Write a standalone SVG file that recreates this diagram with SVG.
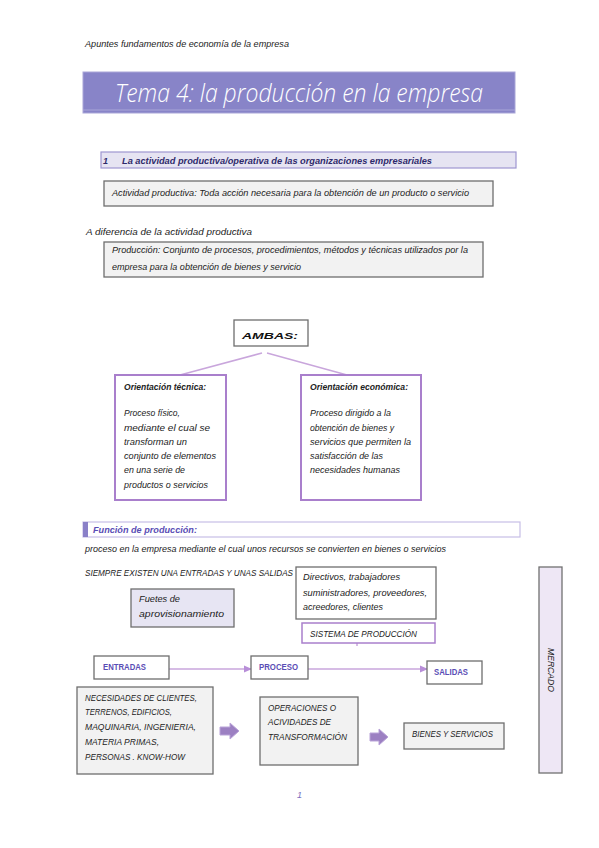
<svg xmlns="http://www.w3.org/2000/svg" width="599" height="848" viewBox="0 0 599 848">
<style>
text{font-family:"Liberation Sans","DejaVu Sans",sans-serif;font-style:italic;font-size:9px;fill:#222;}
.gbox{fill:#F2F2F2;stroke:#6E6E6E;stroke-width:1.3;}
.wbox{fill:#FFFFFF;stroke:#6E6E6E;stroke-width:1.3;}
.pbox{fill:#FFFFFF;stroke:#A97FCC;stroke-width:2;}
.lbox{fill:#E7E5F3;stroke:#6E6E6E;stroke-width:1.3;}
.conn{stroke:#C9A6DC;stroke-width:1.5;fill:none;}
.hd{fill:#5A4DB5;font-weight:bold;font-style:normal;font-size:8.5px;}
.blk{fill:#9C80C2;stroke:#B9A3D8;stroke-width:1;}
</style>
<defs>
<marker id="ah" markerWidth="8" markerHeight="8" refX="7" refY="4" orient="auto" markerUnits="userSpaceOnUse">
<path d="M0,0.5 L8,4 L0,7.5 Z" fill="#B88ED8"/>
</marker>
</defs>

<text x="85" y="47" textLength="204" lengthAdjust="spacingAndGlyphs" font-size="9.5">Apuntes fundamentos de economía de la empresa</text>

<g id="title">
<rect x="83" y="72" width="432" height="41" fill="#8884C8" stroke="#A9A6D8" stroke-width="1"/>
<line x1="83" y1="110" x2="515" y2="110" stroke="#A9A6D8" stroke-width="1"/>
<text x="115" y="102" textLength="368" lengthAdjust="spacingAndGlyphs" style="font-family:'Open Sans','Lato','Liberation Sans',sans-serif;font-weight:300;font-size:26px;fill:#FFFFFF;">Tema 4: la producción en la empresa</text>
</g>

<g id="section1">
<rect x="101" y="152" width="415" height="16" fill="#E6E4F2" stroke="#9E97D0" stroke-width="1.2"/>
<text x="103" y="164" font-weight="bold" font-size="9.5" fill="#2E2A6B" style="fill:#2E2A6B">1</text>
<text x="122" y="164" textLength="310" lengthAdjust="spacingAndGlyphs" font-weight="bold" font-size="9.5" style="fill:#2E2A6B">La actividad productiva/operativa de las organizaciones empresariales</text>
</g>

<g id="actividad">
<rect class="gbox" x="104" y="181" width="389" height="25"/>
<text x="112" y="196" textLength="357" lengthAdjust="spacingAndGlyphs">Actividad productiva: Toda acción necesaria para la obtención de un producto o servicio</text>
</g>

<text x="86" y="235" textLength="166" lengthAdjust="spacingAndGlyphs">A diferencia de la actividad productiva</text>

<g id="produccion">
<rect class="gbox" x="104" y="242" width="379" height="35"/>
<text x="112" y="253" textLength="356" lengthAdjust="spacingAndGlyphs">Producción: Conjunto de procesos, procedimientos, métodos y técnicas utilizados por la</text>
<text x="112" y="270" textLength="189" lengthAdjust="spacingAndGlyphs">empresa para la obtención de bienes y servicio</text>
</g>

<g id="ambas">
<rect class="wbox" x="234" y="320" width="74" height="26"/>
<text x="242" y="339" textLength="56" lengthAdjust="spacingAndGlyphs" font-weight="bold" font-size="16" style="fill:#111">AMBAS:</text>
</g>

<g id="connectors">
<line class="conn" x1="262" y1="353" x2="180" y2="375"/>
<line class="conn" x1="267" y1="353" x2="347" y2="375"/>
<line class="conn" x1="169" y1="669" x2="251" y2="669" marker-end="url(#ah)"/>
<line class="conn" x1="308" y1="669" x2="427" y2="669" marker-end="url(#ah)"/>
<line class="conn" x1="357" y1="643" x2="357" y2="646"/>
</g>

<g id="tecnica">
<rect class="pbox" x="115" y="375" width="111" height="125"/>
<text x="124" y="390" textLength="82" lengthAdjust="spacingAndGlyphs" font-weight="bold">Orientación técnica:</text>
<text x="124" y="416" textLength="56" lengthAdjust="spacingAndGlyphs">Proceso físico,</text>
<text x="124" y="431" textLength="86" lengthAdjust="spacingAndGlyphs">mediante el cual se</text>
<text x="124" y="445" textLength="63" lengthAdjust="spacingAndGlyphs">transforman un</text>
<text x="124" y="459" textLength="92" lengthAdjust="spacingAndGlyphs">conjunto de elementos</text>
<text x="124" y="473" textLength="61" lengthAdjust="spacingAndGlyphs">en una serie de</text>
<text x="124" y="488" textLength="84" lengthAdjust="spacingAndGlyphs">productos o servicios</text>
</g>

<g id="economica">
<rect class="pbox" x="301" y="375" width="120" height="125"/>
<text x="310" y="390" textLength="98" lengthAdjust="spacingAndGlyphs" font-weight="bold">Orientación económica:</text>
<text x="310" y="416" textLength="81" lengthAdjust="spacingAndGlyphs">Proceso dirigido a la</text>
<text x="310" y="431" textLength="84" lengthAdjust="spacingAndGlyphs">obtención de bienes y</text>
<text x="310" y="445" textLength="101" lengthAdjust="spacingAndGlyphs">servicios que permiten la</text>
<text x="310" y="459" textLength="73" lengthAdjust="spacingAndGlyphs">satisfacción de las</text>
<text x="310" y="473" textLength="90" lengthAdjust="spacingAndGlyphs">necesidades humanas</text>
</g>

<g id="funcion">
<rect x="83" y="522" width="437" height="15" fill="#FFFFFF" stroke="#C7BEE6" stroke-width="1.2"/>
<rect x="83" y="522" width="5" height="15" fill="#8A80C8"/>
<text x="93" y="533" textLength="104" lengthAdjust="spacingAndGlyphs" font-weight="bold" font-size="9.5" style="fill:#5A4DB5">Función de producción:</text>
</g>

<text x="85" y="552" textLength="361" lengthAdjust="spacingAndGlyphs">proceso en la empresa mediante el cual unos recursos se convierten en bienes o servicios</text>
<text x="85" y="576" textLength="208" lengthAdjust="spacingAndGlyphs">SIEMPRE EXISTEN UNA ENTRADAS Y UNAS SALIDAS</text>

<g id="directivos">
<rect class="wbox" x="296" y="567" width="140" height="52"/>
<text x="303" y="580" textLength="97" lengthAdjust="spacingAndGlyphs">Directivos, trabajadores</text>
<text x="303" y="596" textLength="124" lengthAdjust="spacingAndGlyphs">suministradores, proveedores,</text>
<text x="303" y="610" textLength="80" lengthAdjust="spacingAndGlyphs">acreedores, clientes</text>
</g>

<g id="fuentes">
<rect class="lbox" x="131" y="589" width="103" height="38"/>
<text x="139" y="602" textLength="41" lengthAdjust="spacingAndGlyphs">Fuetes de</text>
<text x="139" y="617" textLength="85" lengthAdjust="spacingAndGlyphs">aprovisionamiento</text>
</g>

<g id="sistema">
<rect class="pbox" x="302" y="623" width="133" height="20" style="stroke-width:1.5"/>
<text x="310" y="637" textLength="107" lengthAdjust="spacingAndGlyphs">SISTEMA DE PRODUCCIÓN</text>
</g>

<g id="entradas">
<rect class="wbox" x="94" y="656" width="75" height="23"/>
<text class="hd" x="103" y="670" textLength="43" lengthAdjust="spacingAndGlyphs">ENTRADAS</text>
</g>

<g id="proceso">
<rect class="wbox" x="251" y="656" width="57" height="23"/>
<text class="hd" x="259" y="670" textLength="39" lengthAdjust="spacingAndGlyphs">PROCESO</text>
</g>

<g id="salidas">
<rect class="wbox" x="427" y="661" width="55" height="23"/>
<text class="hd" x="434" y="675" textLength="34" lengthAdjust="spacingAndGlyphs">SALIDAS</text>
</g>

<g id="necesidades">
<rect class="gbox" x="77" y="687" width="136" height="87"/>
<text x="85" y="701" textLength="112" lengthAdjust="spacingAndGlyphs">NECESIDADES DE CLIENTES,</text>
<text x="85" y="715" textLength="87" lengthAdjust="spacingAndGlyphs">TERRENOS, EDIFICIOS,</text>
<text x="85" y="730" textLength="111" lengthAdjust="spacingAndGlyphs">MAQUINARIA, INGENIERIA,</text>
<text x="85" y="745" textLength="74" lengthAdjust="spacingAndGlyphs">MATERIA PRIMAS,</text>
<text x="85" y="760" textLength="100" lengthAdjust="spacingAndGlyphs">PERSONAS . KNOW-HOW</text>
</g>

<g id="arrow1">
<path class="blk" d="M220,727 L230,727 L230,723 L239,731 L230,739 L230,735 L220,735 Z"/>
</g>

<g id="operaciones">
<rect class="gbox" x="260" y="697" width="98" height="68"/>
<text x="268" y="711" textLength="68" lengthAdjust="spacingAndGlyphs">OPERACIONES O</text>
<text x="268" y="725" textLength="63" lengthAdjust="spacingAndGlyphs">ACIVIDADES DE</text>
<text x="268" y="740" textLength="79" lengthAdjust="spacingAndGlyphs">TRANSFORMACIÓN</text>
</g>

<g id="arrow2">
<path class="blk" d="M370,733 L379,733 L379,729 L388,737 L379,745 L379,741 L370,741 Z"/>
</g>

<g id="bienes">
<rect class="gbox" x="404" y="723" width="100" height="26"/>
<text x="412" y="737" textLength="81" lengthAdjust="spacingAndGlyphs">BIENES Y SERVICIOS</text>
</g>

<g id="mercado">
<rect x="539" y="567" width="23" height="206" fill="#EEE7F5" stroke="#707070" stroke-width="1.3"/>
<text x="0" y="0" transform="translate(548,648) rotate(90)" textLength="44" lengthAdjust="spacingAndGlyphs" font-size="8.5">MERCADO</text>
</g>

<text x="297" y="798" font-size="9" style="fill:#7A6FC0">1</text>
</svg>
